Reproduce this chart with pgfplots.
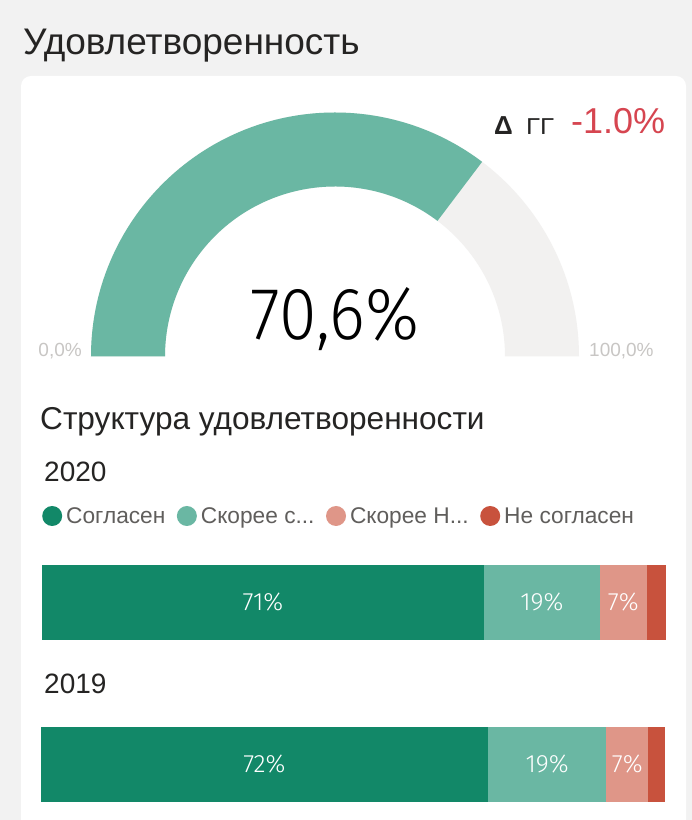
\documentclass[border=0pt]{standalone}
\usepackage{fontspec}
\setmainfont{Liberation Sans}
\newfontfamily\thin{Fira Sans Light}
\usepackage{pgfplots}
\pgfplotsset{compat=1.18}

\definecolor{bgcol}{RGB}{242,242,242}
\definecolor{titlecol}{RGB}{37,36,35}
\definecolor{legcol}{RGB}{96,94,92}
\definecolor{lblgray}{RGB}{200,198,196}
\definecolor{gaugegray}{RGB}{242,241,240}
\definecolor{cA}{RGB}{18,136,104}
\definecolor{cB}{RGB}{106,183,163}
\definecolor{cC}{RGB}{223,150,136}
\definecolor{cD}{RGB}{200,82,61}
\definecolor{redtxt}{RGB}{214,69,80}

\newcommand\gval{70.6}
\pgfmathsetmacro\gang{180-1.8*\gval}
\pgfmathsetmacro\rin{170/244}

\pgfplotsset{
  stackbar/.style={
    xbar stacked, hide axis, scale only axis, clip=false,
    width=624pt, height=75pt, bar width=75pt,
    xmin=0, xmax=100, ymin=-0.5, ymax=0.5,
    anchor=south west,
  },
}
\tikzset{barlbl/.style={text=white, font=\thin\fontsize{25}{26}\selectfont}}

\begin{document}
\begin{tikzpicture}
\useasboundingbox (0,0) rectangle (692pt,820pt);
\clip (0,0) rectangle (692pt,820pt);
\fill[bgcol] (0,0) rectangle (692pt,820pt);
\fill[white, rounded corners=10pt] (21pt,-30pt) rectangle (686pt,744pt);

\node[anchor=base west, inner sep=0, text=titlecol, font=\fontsize{37}{40}\selectfont]
  at (23pt,765pt) {Удовлетворенность};

% delta
\node[anchor=base west, inner sep=0, text=titlecol, font=\fontsize{26}{30}\selectfont]
  at (494pt,685pt) {\textbf{Δ}};
\node[anchor=base west, inner sep=0, text=titlecol, font=\fontsize{23}{30}\selectfont]
  at (526pt,685pt) {\scalebox{1.12}[1]{ГГ}};
\node[anchor=base west, inner sep=0, text=redtxt, font=\fontsize{36}{40}\selectfont]
  at (571pt,686pt) {-1.0\%};

% gauge
\begin{axis}[hide axis, scale only axis, clip=false,
  width=488pt, height=244pt, xmin=-1, xmax=1, ymin=0, ymax=1,
  at={(91pt,463.5pt)}, anchor=south west]
  \fill[gaugegray] (axis cs:-1,0) arc[start angle=180, end angle=0, radius=244pt]
    -- (axis cs:\rin,0) arc[start angle=0, end angle=180, radius=170pt] -- cycle;
  \fill[cB] (axis cs:-1,0) arc[start angle=180, end angle=\gang, radius=244pt]
    -- (axis cs:{\rin*cos(\gang)},{\rin*sin(\gang)})
    arc[start angle=\gang, end angle=180, radius=170pt] -- cycle;
  \node[anchor=base, inner sep=0, font=\thin\fontsize{74}{76}\selectfont]
    at (axis cs:0,0) [yshift=16.5pt] {\scalebox{0.92}[1]{70,6\%}};
  \node[anchor=base east, inner sep=0, text=lblgray, font=\fontsize{19}{20}\selectfont]
    at (axis cs:-1,0) [xshift=-9pt, yshift=-0.5pt] {0,0\%};
  \node[anchor=base west, inner sep=0, text=lblgray, font=\fontsize{19}{20}\selectfont]
    at (axis cs:1,0) [xshift=10pt, yshift=-0.5pt] {100,0\%};
\end{axis}

\node[anchor=base west, inner sep=0, text=titlecol, font=\fontsize{31.6}{34}\selectfont]
  at (40pt,390pt) {Структура удовлетворенности};
\node[anchor=base west, inner sep=0, text=titlecol, font=\fontsize{28}{30}\selectfont]
  at (44pt,338pt) {2020};
\node[anchor=base west, inner sep=0, text=titlecol, font=\fontsize{28}{30}\selectfont]
  at (44pt,126pt) {2019};

% 2020
\begin{axis}[stackbar, at={(42pt,180pt)},
  legend columns=4,
  legend image code/.code={\fill[#1] (0pt,0pt) circle (10pt);},
  legend style={at={(0,1)}, anchor=west, yshift=49pt, xshift=0pt,
    draw=none, fill=none, inner sep=0pt, text=legcol,
    font=\fontsize{22.7}{24}\selectfont,
    cells={anchor=west},
    /tikz/every odd column/.style={column sep=2pt},
    /tikz/every even column/.style={column sep=9.5pt}},
  ]
  \addplot[fill=cA, draw=none] coordinates {(70.8,0)};
  \addlegendentry{Согласен}
  \addplot[fill=cB, draw=none] coordinates {(18.6,0)};
  \addlegendentry{Скорее с...}
  \addplot[fill=cC, draw=none] coordinates {(7.5,0)};
  \addlegendentry{Скорее Н...}
  \addplot[fill=cD, draw=none] coordinates {(3.1,0)};
  \addlegendentry{Не согласен}
  \coordinate (a1) at (axis cs:35.4,0);
  \coordinate (a2) at (axis cs:80.1,0);
  \coordinate (a3) at (axis cs:93.15,0);
\end{axis}
\node[barlbl] at (a1) {71\%};
\node[barlbl] at (a2) {19\%};
\node[barlbl] at (a3) {7\%};

% 2019
\begin{axis}[stackbar, at={(41pt,18pt)}]
  \addplot[fill=cA, draw=none] coordinates {(71.6,0)};
  \addplot[fill=cB, draw=none] coordinates {(19.0,0)};
  \addplot[fill=cC, draw=none] coordinates {(6.7,0)};
  \addplot[fill=cD, draw=none] coordinates {(2.7,0)};
  \coordinate (b1) at (axis cs:35.8,0);
  \coordinate (b2) at (axis cs:81.1,0);
  \coordinate (b3) at (axis cs:93.95,0);
\end{axis}
\node[barlbl] at (b1) {72\%};
\node[barlbl] at (b2) {19\%};
\node[barlbl] at (b3) {7\%};
\end{tikzpicture}
\end{document}
